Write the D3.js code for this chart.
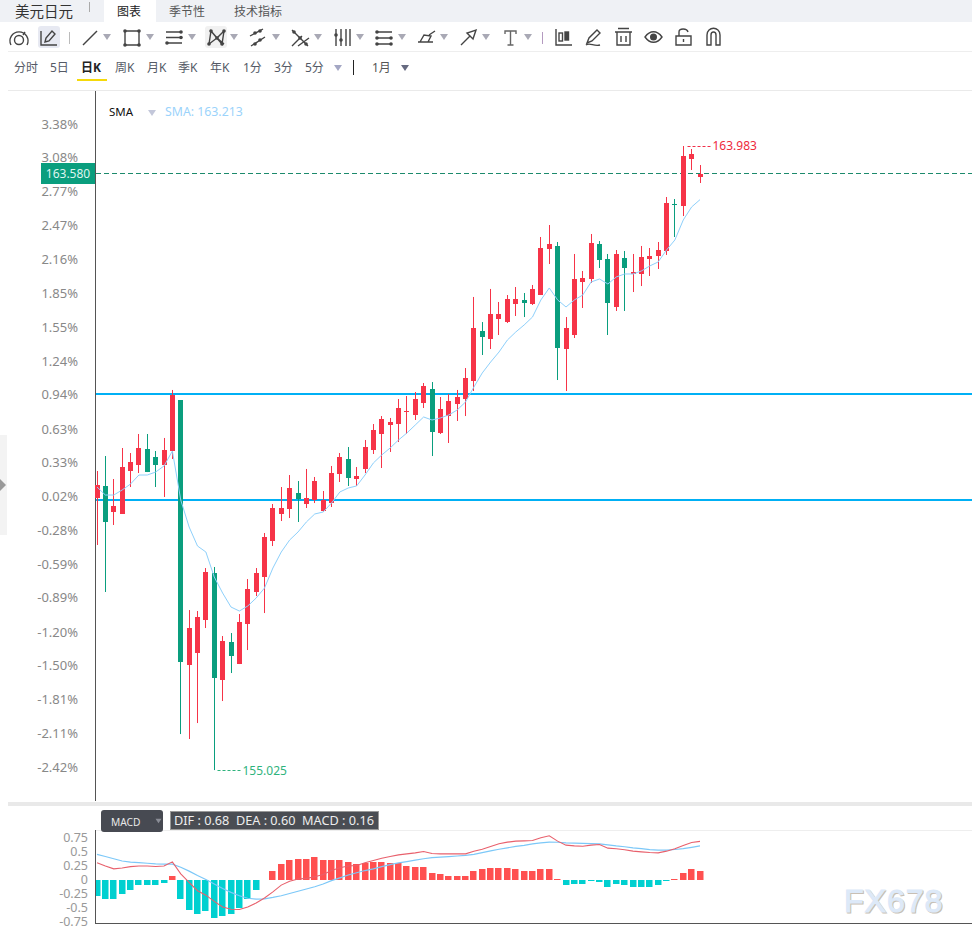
<!DOCTYPE html>
<html>
<head>
<meta charset="utf-8">
<style>
  html, body { margin: 0; padding: 0; background: #fff; overflow: hidden; }
  text { font-family: "Noto Sans", "Noto Sans CJK SC", sans-serif; }
</style>
<script src="https://d3js.org/d3.v7.min.js"></script>
</head>
<body>
<div id="chart"></div>
<script>
// daily candles, oldest first
var opens = [158.930,159.103,158.729,158.701,159.318,159.404,159.634,159.519,159.404,159.605,
  160.337,156.533,156.705,157.179,157.854,156.317,156.863,156.547,157.121,157.581,
  157.796,158.313,158.701,158.772,159.002,158.844,158.902,158.744,158.858,159.275,
  159.490,159.203,159.347,159.619,159.849,159.978,159.992,160.165,160.122,160.294,
  160.495,159.863,160.107,160.280,160.351,160.610,161.327,161.212,161.499,161.456,
  161.715,161.773,161.715,161.844,162.505,162.548,161.069,161.270,162.031,162.074,
  162.576,162.361,161.672,162.375,162.146,162.146,162.361,162.404,162.476,163.150,
  163.122,163.797,163.538];
var highs = [159.318,159.533,159.203,159.648,159.576,159.849,159.849,159.605,159.792,160.481,
  160.337,157.322,157.308,157.925,157.940,156.949,156.992,157.265,157.767,157.925,
  158.428,158.844,159.088,159.260,159.174,159.347,159.232,159.031,159.390,159.576,
  159.662,159.375,159.763,159.992,160.107,160.079,160.351,160.394,160.452,160.581,
  160.595,160.380,160.423,160.481,160.796,161.816,161.456,161.931,161.744,161.844,
  161.959,161.873,161.988,162.677,162.849,162.605,161.528,162.433,162.189,162.720,
  162.619,162.433,162.490,162.476,162.433,162.548,162.519,162.605,163.251,163.222,
  163.983,163.940,163.710];
var lows = [158.256,157.581,158.543,158.701,159.088,159.289,159.303,159.088,158.945,159.490,
  155.542,155.471,155.700,157.064,155.025,156.016,156.418,156.547,156.748,157.523,
  157.279,158.241,158.600,158.643,158.586,158.787,158.858,158.729,158.801,159.160,
  159.103,159.103,159.289,159.562,159.361,159.591,159.734,159.849,160.050,160.222,
  159.533,159.849,159.720,160.036,160.107,160.466,160.983,161.069,161.270,161.442,
  161.543,161.528,161.701,161.844,162.289,160.624,160.466,161.227,161.658,162.017,
  162.232,161.270,161.615,161.615,161.887,161.973,162.117,162.218,162.419,162.677,
  162.978,163.639,163.452];
var closes = [159.117,158.586,158.815,159.375,159.447,159.648,159.303,159.404,159.619,160.409,
  156.576,157.064,157.222,157.868,156.346,156.878,156.662,157.150,157.624,157.854,
  158.370,158.787,158.787,159.074,158.916,158.930,159.174,158.902,159.289,159.519,
  159.217,159.246,159.662,159.906,160.064,160.021,160.222,160.179,160.351,160.538,
  159.878,160.208,160.323,160.380,160.653,161.371,161.241,161.571,161.571,161.787,
  161.787,161.729,161.931,162.519,162.576,161.083,161.371,162.074,162.088,162.591,
  162.347,161.729,162.433,162.232,162.174,162.390,162.404,162.490,163.165,163.136,
  163.840,163.868,163.580];
var sma = [159.088,158.973,158.973,159.045,159.131,159.260,159.260,159.303,159.390,159.605,
  158.902,158.514,158.241,158.155,157.796,157.566,157.365,157.308,157.380,157.494,
  157.638,157.925,158.155,158.327,158.442,158.586,158.701,158.729,158.858,159.017,
  159.074,159.103,159.260,159.433,159.548,159.648,159.763,159.863,159.978,160.093,
  160.050,160.079,160.122,160.193,160.308,160.523,160.725,160.882,161.026,161.198,
  161.313,161.414,161.528,161.773,161.945,161.773,161.672,161.773,161.844,162.031,
  162.074,162.002,162.103,162.146,162.146,162.189,162.261,162.318,162.490,162.634,
  162.921,163.108,163.213];

// MACD panel
var dif = [0.30,0.24,0.19,0.205,0.23,0.24,0.24,0.232,0.24,0.315,
  0.10,-0.05,-0.20,-0.28,-0.39,-0.49,-0.53,-0.536,-0.49,-0.42,
  -0.33,-0.22,-0.10,-0.03,0.01,0.02,0.05,0.09,0.16,0.21,
  0.24,0.25,0.30,0.34,0.38,0.41,0.44,0.458,0.476,0.50,
  0.464,0.458,0.458,0.458,0.458,0.506,0.54,0.59,0.637,0.667,
  0.685,0.69,0.696,0.744,0.78,0.685,0.613,0.60,0.595,0.613,
  0.625,0.56,0.548,0.53,0.506,0.494,0.482,0.476,0.506,0.548,
  0.607,0.66,0.68];
var dea = [0.45,0.41,0.37,0.33,0.31,0.30,0.29,0.28,0.274,0.275,
  0.22,0.15,0.07,0,-0.08,-0.16,-0.23,-0.29,-0.335,-0.35,
  -0.345,-0.32,-0.29,-0.25,-0.21,-0.17,-0.13,-0.08,-0.02,0.03,
  0.08,0.12,0.16,0.19,0.23,0.265,0.298,0.32,0.345,0.37,
  0.39,0.40,0.41,0.42,0.43,0.45,0.48,0.51,0.54,0.565,
  0.59,0.61,0.635,0.655,0.667,0.665,0.655,0.65,0.645,0.64,
  0.637,0.62,0.60,0.585,0.565,0.55,0.535,0.524,0.525,0.536,
  0.55,0.575,0.60];
var hist = [-0.30,-0.345,-0.34,-0.25,-0.18,-0.107,-0.095,-0.09,-0.054,0.07,
  -0.345,-0.536,-0.613,-0.554,-0.68,-0.65,-0.625,-0.506,-0.345,-0.196,
  -0.012,0.16,0.268,0.357,0.375,0.375,0.393,0.34,0.357,0.357,
  0.32,0.268,0.286,0.304,0.304,0.286,0.286,0.25,0.232,0.232,
  0.125,0.09,0.071,0.054,0.054,0.143,0.179,0.214,0.214,0.214,
  0.196,0.16,0.143,0.196,0.196,0.005,-0.107,-0.089,-0.089,-0.018,
  -0.036,-0.125,-0.089,-0.107,-0.125,-0.125,-0.125,-0.107,-0.018,0.012,
  0.125,0.179,0.16];

var pctTicks = [3.38,3.08,2.77,2.47,2.16,1.85,1.55,1.24,0.94,0.63,0.33,0.02,-0.28,-0.59,-0.89,-1.20,-1.50,-1.81,-2.11,-2.42];
var macdTicks = [0.75,0.5,0.25,0,-0.25,-0.5,-0.75];
var macdTickLabels = ["0.75","0.5","0.25","0","-0.25","-0.5","-0.75"];
var levels = [160.423, 158.902];
var lastPrice = 163.580;
var hiPrice = 163.983;
var loPrice = 155.025;
var hiIndex = 70;
var loIndex = 14;

var topTabs = ["季节性", "技术指标"];
var periods = ["分时","5日","日K","周K","月K","季K","年K","1分","3分","5分"];
var periodX = [14,50,81,115,147,178,210,243,274,305];

var svgWidth = 972;
var svgHeight = 935;
var red = "#f63448";
var green = "#0a9e7e";

var svg = d3.select("#chart").append("svg")
  .attr("width", svgWidth)
  .attr("height", svgHeight)
  .style("display", "block");

var index = d3.range(opens.length);
var x = d3.scaleLinear().domain([0, opens.length - 1]).range([97, 700]);
function snap(i) { return Math.floor(x(i)) + 0.5; }

var y = d3.scaleLinear().domain([160.337, 163.983]).range([400, 146]);
var yPct = d3.scaleLinear().domain([-2.42, 3.38]).range([767.5, 124]);
var yMacd = d3.scaleLinear().domain([-0.75, 0.75]).range([921.5, 837.5]);

// page chrome
svg.append("rect").attr("width", svgWidth).attr("height", 22).attr("fill", "#eff1f5");
svg.append("rect").attr("x", 104).attr("width", 52).attr("height", 22).attr("fill", "#fff");
svg.append("text").attr("x", 15).attr("y", 12).attr("dy", "0.35em").attr("font-size", 14.5).attr("fill", "#333").text("美元日元");
svg.append("rect").attr("x", 89).attr("y", 2).attr("width", 1).attr("height", 10).attr("fill", "#aaa");
svg.append("text").attr("x", 117).attr("y", 12).attr("dy", "0.35em").attr("font-size", 12).attr("fill", "#222").text("图表");
svg.selectAll(".tab").data(topTabs).enter().append("text")
  .attr("class", "tab")
  .attr("x", function(d, i) { return i === 0 ? 169 : 234; })
  .attr("y", 12).attr("dy", "0.35em").attr("font-size", 12).attr("fill", "#555")
  .text(function(d) { return d; });

svg.append("line").attr("x1", 8).attr("x2", svgWidth).attr("y1", 51.5).attr("y2", 51.5).attr("stroke", "#eee");
svg.append("line").attr("x1", 8).attr("x2", svgWidth).attr("y1", 90.5).attr("y2", 90.5).attr("stroke", "#eaeaea");

// toolbar icons, all drawn as paths at their spot on the bar
var toolbar = svg.append("g").attr("fill", "none").attr("stroke", "#444").attr("stroke-width", 1.4);
svg.insert("rect", "g").attr("x", 38).attr("y", 26).attr("width", 22).attr("height", 22).attr("rx", 3).attr("fill", "#e7e9f2");
svg.insert("rect", "g").attr("x", 205).attr("y", 26).attr("width", 22).attr("height", 22).attr("rx", 3).attr("fill", "#f1f1f1");
function icon(d) { return toolbar.append("path").attr("d", d); }
function dot(cx, cy) { toolbar.append("circle").attr("cx", cx).attr("cy", cy).attr("r", 1.8).attr("fill", "#444").attr("stroke", "none"); }

icon("M11 45 A9 9 0 1 1 27 45");
toolbar.append("circle").attr("cx", 19).attr("cy", 40).attr("r", 4.5);
icon("M25 32 L23 35");
icon("M41 31 V45 H57 M45 42 L46 38 L52 31 L55 34 L49 41 Z");
icon("M83 45 L97 31");
icon("M125 31 H139 V45 H125 Z");
[[125,31],[139,31],[125,45],[139,45]].forEach(function(p) { dot(p[0], p[1]); });
icon("M166 32 H182 M166 37.5 H182 M166 43 H182");
dot(181, 32); dot(181, 37.5); dot(167, 43);
icon("M209 44 L211 31 L222 44 L224 31 M211 31 L217 38 L209 44 M224 31 L217 38 L224 44");
[[209,44],[211,31],[222,44],[224,31],[217,38]].forEach(function(p) { dot(p[0], p[1]); });
icon("M250 36 L263 29 M251 46 L265 37");
[[255,33],[260,31],[255,44],[260,40]].forEach(function(p) { dot(p[0], p[1]); });
icon("M292 30 L308 46 M292 46 L302 36 M298 46 L309 38");
[[294,32],[300,38],[306,44]].forEach(function(p) { dot(p[0], p[1]); });
icon("M336 29 V46 M341 29 V46 M346 29 V46 M350 29 V46");
dot(336, 35); dot(341, 40);
icon("M376 32 H392 M376 38 H392 M376 44 H392");
[[377,32],[377,38],[377,44],[391,38],[391,44]].forEach(function(p) { dot(p[0], p[1]); });
icon("M418 42 H433 M420 42 L424 35 L431 36 L428 42 M429 35 L435 31");
icon("M461 45 L470 36 L467 33 L476 30 L473 39 L470 36");
icon("M505 34 V31 H516 V34 M510.5 31 V45 M507.5 45 H513.5").attr("stroke", "#666");
icon("M556 29 V45 H572");
toolbar.append("rect").attr("x", 559).attr("y", 33).attr("width", 3.5).attr("height", 8);
toolbar.append("rect").attr("x", 565).attr("y", 32).attr("width", 3.5).attr("height", 8).attr("fill", "#444");
icon("M587 43 L589 38 L597 30 L600 33 L592 41 Z M586 45 C590 42 594 47 600 45");
icon("M618 28.5 H629 M615 32 H632 M617 32 V45 H630 V32 M621 36 V42 M626 36 V42");
icon("M645 37 C650 30 657 30 662 37 C657 44 650 44 645 37 Z");
toolbar.append("circle").attr("cx", 653.5).attr("cy", 37).attr("r", 2.8).attr("fill", "#444");
icon("M676 36 H691 V45 H676 Z M679 36 V32 C679 28 687 28 688 32");
icon("M683.5 39 V42");
icon("M707 45 V35 C707 26 720 26 720 35 V45 H716 V35 C716 31 711 31 711 35 V45 Z");
toolbar.append("rect").attr("x", 69).attr("y", 32).attr("width", 1).attr("height", 12).attr("fill", "#bbb").attr("stroke", "none");
toolbar.append("rect").attr("x", 542).attr("y", 32).attr("width", 1).attr("height", 12).attr("fill", "#b49ac0").attr("stroke", "none");

function caret(cx, cy, w, fill) {
  svg.append("path")
    .attr("d", "M" + (cx - w / 2) + " " + (cy - w * 0.36) + " H" + (cx + w / 2) + " L" + cx + " " + (cy + w * 0.36) + " Z")
    .attr("fill", fill);
}
[107,150,192,234,276,318,360,402,444,486,528].forEach(function(c) { caret(c, 37, 8, "#a9a9b5"); });

// period row
svg.selectAll(".period").data(periods).enter().append("text")
  .attr("class", "period")
  .attr("x", function(d, i) { return periodX[i]; })
  .attr("y", 68).attr("dy", "0.35em").attr("font-size", 12)
  .attr("font-weight", function(d) { return d === "日K" ? 700 : 400; })
  .attr("fill", function(d) { return d === "日K" ? "#222" : "#555a66"; })
  .text(function(d) { return d; });
svg.append("rect").attr("x", 77).attr("y", 79).attr("width", 30).attr("height", 2).attr("fill", "#f5d90a");
caret(338, 68, 8, "#a4a7c4");
svg.append("rect").attr("x", 353).attr("y", 60).attr("width", 1).attr("height", 15).attr("fill", "#222");
svg.append("text").attr("x", 372).attr("y", 68).attr("dy", "0.35em").attr("font-size", 12).attr("fill", "#555").text("1月");
caret(405, 68, 8, "#666a80");

// collapse tab on the left edge
svg.append("rect").attr("y", 435).attr("width", 7).attr("height", 100).attr("fill", "#f3f3f3");
svg.append("path").attr("d", "M0 479 L6 485 L0 491 Z").attr("fill", "#999");

// main axis
var yAxis = d3.axisLeft(yPct)
  .tickValues(pctTicks)
  .tickSize(0)
  .tickPadding(17)
  .tickFormat(function(d) { return d.toFixed(2) + "%"; });
var gAxis = svg.append("g").attr("transform", "translate(95,0)").call(yAxis);
gAxis.select(".domain").remove();
gAxis.selectAll("text").attr("fill", "#888").attr("font-size", 13).attr("font-family", null);

svg.append("line").attr("x1", 95.5).attr("x2", 95.5).attr("y1", 91).attr("y2", 801).attr("stroke", "#555");

// horizontal levels
svg.selectAll(".level").data(levels).enter().append("line")
  .attr("class", "level")
  .attr("x1", 96).attr("x2", svgWidth)
  .attr("y1", function(d) { return Math.round(y(d)); })
  .attr("y2", function(d) { return Math.round(y(d)); })
  .attr("stroke", "#00b0f5").attr("stroke-width", 2);

// last price line and tag
var yLast = Math.round(y(lastPrice)) - 0.5;
svg.append("line").attr("x1", 96).attr("x2", svgWidth).attr("y1", yLast).attr("y2", yLast)
  .attr("stroke", "#1c8a6c").attr("stroke-dasharray", "5 3");
svg.append("rect").attr("x", 41).attr("y", yLast - 10.5).attr("width", 54).attr("height", 21).attr("fill", green);
svg.append("text").attr("x", 68).attr("y", yLast).attr("dy", "0.35em").attr("text-anchor", "middle")
  .attr("font-size", 12).attr("fill", "#dff5ef").text(d3.format(".3f")(lastPrice));

// candles
var candles = svg.append("g");
var candle = candles.selectAll("g").data(index).enter().append("g");
function candleColor(i) { return closes[i] >= opens[i] ? red : green; }
candle.append("rect")
  .attr("x", function(i) { return snap(i) - 0.5; })
  .attr("width", 1)
  .attr("y", function(i) { return y(highs[i]); })
  .attr("height", function(i) { return y(lows[i]) - y(highs[i]); })
  .attr("fill", candleColor);
candle.append("rect")
  .attr("x", function(i) { return snap(i) - 2.5; })
  .attr("width", 5)
  .attr("y", function(i) { return Math.round(y(Math.max(opens[i], closes[i]))); })
  .attr("height", function(i) {
    return Math.max(1, Math.round(y(Math.min(opens[i], closes[i]))) - Math.round(y(Math.max(opens[i], closes[i]))));
  })
  .attr("fill", candleColor);

// moving average
var smaLine = d3.line()
  .x(function(d, i) { return x(i); })
  .y(function(d) { return y(d); });
svg.append("path").datum(sma).attr("d", smaLine)
  .attr("fill", "none").attr("stroke", "#8ed0fb").attr("stroke-width", 1);

// hi / lo markers
svg.append("line")
  .attr("x1", snap(hiIndex) + 4).attr("x2", snap(hiIndex) + 28)
  .attr("y1", Math.round(y(hiPrice)) + 0.5).attr("y2", Math.round(y(hiPrice)) + 0.5)
  .attr("stroke", "#f0304a").attr("stroke-dasharray", "3 2");
svg.append("text").attr("x", snap(hiIndex) + 29).attr("y", y(hiPrice)).attr("dy", "0.35em")
  .attr("font-size", 12).attr("fill", "#ee2a3c").text(d3.format(".3f")(hiPrice));
svg.append("line")
  .attr("x1", snap(loIndex) + 3).attr("x2", snap(loIndex) + 27)
  .attr("y1", Math.round(y(loPrice)) + 0.5).attr("y2", Math.round(y(loPrice)) + 0.5)
  .attr("stroke", "#2fb37d").attr("stroke-dasharray", "3 2");
svg.append("text").attr("x", snap(loIndex) + 28).attr("y", y(loPrice) + 1).attr("dy", "0.35em")
  .attr("font-size", 12).attr("fill", "#2fb37d").text(d3.format(".3f")(loPrice));

// SMA legend
svg.append("text").attr("x", 109).attr("y", 112).attr("dy", "0.35em").attr("font-size", 11.5).attr("fill", "#111").text("SMA");
caret(152, 113, 8, "#c3c7da");
svg.append("text").attr("x", 165).attr("y", 112).attr("dy", "0.35em").attr("font-size", 12.3).attr("fill", "#9bd3fb")
  .text("SMA: " + d3.format(".3f")(sma[sma.length - 1]));

// MACD panel
svg.append("rect").attr("x", 8).attr("y", 802).attr("width", svgWidth - 8).attr("height", 4).attr("fill", "#e9e9e9");
svg.append("line").attr("x1", 95).attr("x2", svgWidth).attr("y1", 830.5).attr("y2", 830.5).attr("stroke", "#eee");
svg.append("line").attr("x1", 95).attr("x2", svgWidth).attr("y1", 923.5).attr("y2", 923.5).attr("stroke", "#555");
svg.append("line").attr("x1", 95.5).attr("x2", 95.5).attr("y1", 830).attr("y2", 924).attr("stroke", "#555");

var macdAxis = d3.axisLeft(yMacd)
  .tickValues(macdTicks)
  .tickSize(0)
  .tickPadding(7)
  .tickFormat(function(d, i) { return macdTickLabels[i]; });
var gMacd = svg.append("g").attr("transform", "translate(95,0)").call(macdAxis);
gMacd.select(".domain").remove();
gMacd.selectAll("text").attr("fill", "#999").attr("font-size", 12.5).attr("font-family", null);

svg.append("g").selectAll("rect").data(index).enter().append("rect")
  .attr("x", function(i) { return Math.max(96, snap(i) - 3.5); })
  .attr("width", function(i) { return snap(i) + 3.5 - Math.max(96, snap(i) - 3.5) - 0.5; })
  .attr("y", function(i) { return Math.round(yMacd(Math.max(hist[i], 0))); })
  .attr("height", function(i) { return Math.abs(Math.round(yMacd(hist[i])) - Math.round(yMacd(0))); })
  .attr("fill", function(i) { return hist[i] >= 0 ? "#ff5050" : "#00d0d0"; });

var macdLine = d3.line()
  .x(function(d, i) { return x(i); })
  .y(function(d) { return yMacd(d); });
svg.append("path").datum(dea).attr("d", macdLine).attr("fill", "none").attr("stroke", "#7cc8f8").attr("stroke-width", 1.2);
svg.append("path").datum(dif).attr("d", macdLine).attr("fill", "none").attr("stroke", "#e8606c").attr("stroke-width", 1.1);

// MACD header
svg.append("rect").attr("x", 101).attr("y", 810).attr("width", 62).attr("height", 22).attr("rx", 3).attr("fill", "#474a52");
svg.append("text").attr("x", 111).attr("y", 822).attr("dy", "0.35em").attr("font-size", 10.2).attr("fill", "#e8e8e8").text("MACD");
caret(158.5, 821, 6, "#8a8d96");
svg.append("rect").attr("x", 170.5).attr("y", 811.5).attr("width", 208).attr("height", 18).attr("fill", "#4a4d53").attr("stroke", "#999");
svg.append("text").attr("x", 174).attr("y", 821).attr("dy", "0.35em").attr("font-size", 12.7).attr("fill", "#eee")
  .style("white-space", "pre")
  .text("DIF : " + dif[dif.length - 1].toFixed(2) + "  DEA : " + dea[dea.length - 1].toFixed(2) + "  MACD : " + hist[hist.length - 1].toFixed(2));

// watermark, tan copy underneath gives the embossed edge
svg.append("text").attr("x", 845).attr("y", 912.5).attr("font-size", 32)
  .attr("font-family", "Liberation Sans").attr("letter-spacing", 1)
  .style("font-family", "Liberation Sans")
  .attr("fill", "#c8bfb4").attr("stroke", "#c8bfb4").attr("stroke-width", 1.2)
  .text("FX678");
svg.append("text").attr("x", 844).attr("y", 911.5).attr("font-size", 32)
  .attr("font-family", "Liberation Sans").attr("letter-spacing", 1)
  .style("font-family", "Liberation Sans")
  .attr("fill", "#dde9f8").attr("stroke", "#dde9f8").attr("stroke-width", 1.2)
  .text("FX678");
</script>
</body>
</html>
